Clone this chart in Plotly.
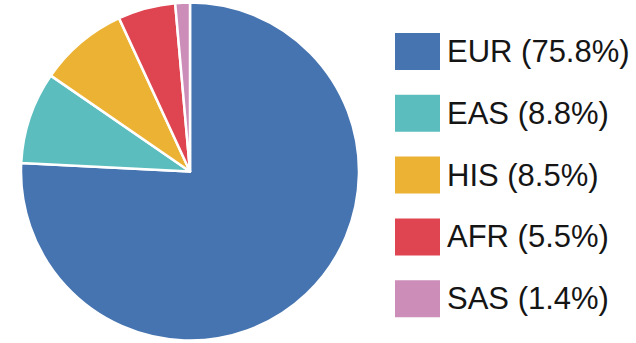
import plotly.graph_objects as go

# Ancestry groups and their share of the total
groups = ["EUR", "EAS", "HIS", "AFR", "SAS"]
shares = [75.8, 8.8, 8.5, 5.5, 1.4]
colors = ["#4674b0", "#5bbdbd", "#ecb234", "#df4451", "#cc8db8"]

W, H = 636, 343

fig = go.Figure(
    go.Pie(
        labels=groups,
        values=shares,
        sort=False,
        direction="clockwise",
        rotation=0,
        marker=dict(colors=colors, line=dict(color="white", width=2.5)),
        textinfo="none",
        hoverinfo="label+percent",
        showlegend=False,
        domain=dict(x=[21 / W, 359 / W], y=[0, 1]),
    )
)

# Custom legend: large colour swatches with label and percentage
sw_left, sw_w, sw_h = 395, 45, 37
top0, step = 33, 61.8
for i, (g, s, c) in enumerate(zip(groups, shares, colors)):
    top = top0 + i * step
    fig.add_shape(
        type="rect", xref="paper", yref="paper",
        x0=sw_left / W, x1=(sw_left + sw_w) / W,
        y0=1 - (top + sw_h) / H, y1=1 - top / H,
        fillcolor=c, line=dict(width=0),
    )
    fig.add_annotation(
        xref="paper", yref="paper",
        x=445 / W, y=1 - (top + sw_h / 2) / H,
        xanchor="left", yanchor="middle",
        text=f"{g} ({s}%)", showarrow=False,
        font=dict(family="Liberation Sans, Arial, sans-serif", size=31, color="#151515"),
    )

fig.update_layout(
    width=W, height=H,
    margin=dict(l=0, r=0, t=0, b=0),
    paper_bgcolor="white", plot_bgcolor="white",
)

fig.write_html("out.html")
